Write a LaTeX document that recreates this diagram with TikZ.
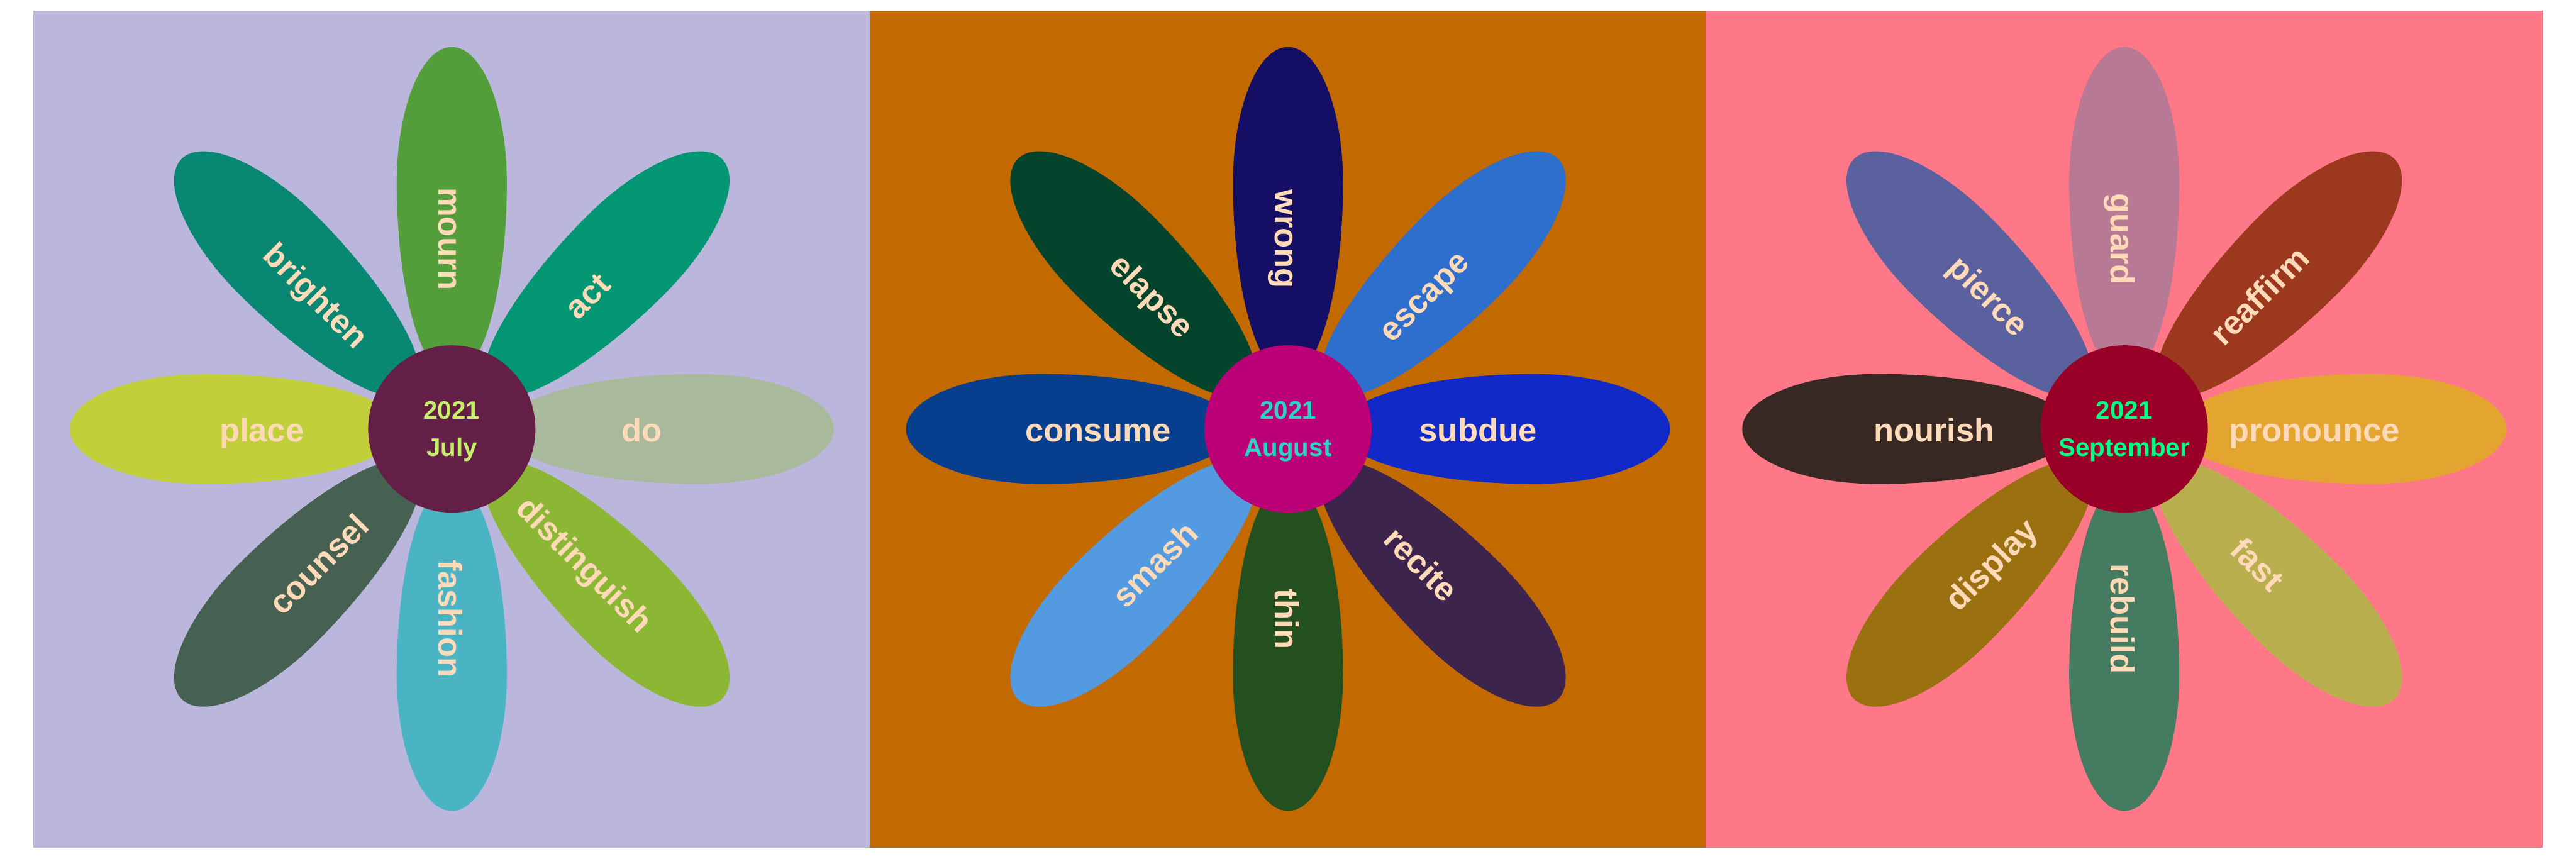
\documentclass[tikz,border=0pt]{standalone}
\usepackage{fontspec}
\setmainfont{Liberation Sans}
\usetikzlibrary{positioning}

% panel backgrounds
\definecolor{bgJul}{HTML}{BBB7DC}
\definecolor{bgAug}{HTML}{C26A00}
\definecolor{bgSep}{HTML}{FF7887}
% centres and their texts
\definecolor{coreJul}{HTML}{631F45}
\definecolor{coreAug}{HTML}{BB0077}
\definecolor{coreSep}{HTML}{990027}
\definecolor{dateJul}{HTML}{C6EF6A}
\definecolor{dateAug}{HTML}{2DD4C4}
\definecolor{dateSep}{HTML}{00FF85}
\definecolor{peach}{HTML}{FFDAB9}
% July petals
\definecolor{julA}{HTML}{A9B99B}
\definecolor{julB}{HTML}{039673}
\definecolor{julC}{HTML}{539D3A}
\definecolor{julD}{HTML}{088873}
\definecolor{julE}{HTML}{C0CF3A}
\definecolor{julF}{HTML}{466052}
\definecolor{julG}{HTML}{4AB4C4}
\definecolor{julH}{HTML}{8BB734}
% August petals
\definecolor{augA}{HTML}{1129C6}
\definecolor{augB}{HTML}{2E6ECC}
\definecolor{augC}{HTML}{140F64}
\definecolor{augD}{HTML}{04432C}
\definecolor{augE}{HTML}{073F8E}
\definecolor{augF}{HTML}{539AE0}
\definecolor{augG}{HTML}{245020}
\definecolor{augH}{HTML}{3D244D}
% September petals
\definecolor{sepA}{HTML}{E4A430}
\definecolor{sepB}{HTML}{9B381E}
\definecolor{sepC}{HTML}{B87995}
\definecolor{sepD}{HTML}{5A619E}
\definecolor{sepE}{HTML}{382824}
\definecolor{sepF}{HTML}{9A7010}
\definecolor{sepG}{HTML}{457C61}
\definecolor{sepH}{HTML}{BAAF4F}

\begin{document}
\begin{tikzpicture}[
    word/.style={text=peach, font=\bfseries\fontsize{19.4}{23}\selectfont, inner sep=0pt, text height=0.54cm, text depth=0pt},
    core/.style={circle, minimum size=3.45cm, inner sep=0pt, align=center, text depth=0pt, font=\bfseries\fontsize{14.9}{21.9}\selectfont}
]
\useasboundingbox (0,0) rectangle (53.14,17.71);

% Panel backgrounds
\fill[bgJul] (0.69,0.22) rectangle (17.94,17.49);
\fill[bgAug] (17.94,0.22) rectangle (35.19,17.49);
\fill[bgSep] (35.19,0.22) rectangle (52.45,17.49);

% July flower
\begin{scope}[shift={(9.32,8.86)}]
\foreach \ang/\word/\col in {0/do/julA, 45/act/julB, 90/mourn/julC, 135/brighten/julD, 180/place/julE, 225/counsel/julF, 270/fashion/julG, 315/distinguish/julH} {
    \pgfmathsetmacro{\rot}{mod(\ang+90,180)-90}
    \fill[\col, rotate=\ang] (5.08,1.135) arc[start angle=90, end angle=-90, x radius=2.80, y radius=1.135]
        arc[start angle=270, end angle=90, x radius=4.01, y radius=1.135] -- cycle;
    \node[word, rotate=\rot] (jul-\ang) at (\ang:3.92) {\word};
}
\node[core, fill=coreJul, text=dateJul] (jul) at (0,0) {2021\\July};
\end{scope}

% August flower
\begin{scope}[shift={(26.57,8.86)}]
\foreach \ang/\word/\col in {0/subdue/augA, 45/escape/augB, 90/wrong/augC, 135/elapse/augD, 180/consume/augE, 225/smash/augF, 270/thin/augG, 315/recite/augH} {
    \pgfmathsetmacro{\rot}{mod(\ang+90,180)-90}
    \fill[\col, rotate=\ang] (5.08,1.135) arc[start angle=90, end angle=-90, x radius=2.80, y radius=1.135]
        arc[start angle=270, end angle=90, x radius=4.01, y radius=1.135] -- cycle;
    \node[word, rotate=\rot] (aug-\ang) at (\ang:3.92) {\word};
}
\node[core, fill=coreAug, text=dateAug] (aug) at (0,0) {2021\\August};
\end{scope}

% September flower
\begin{scope}[shift={(43.82,8.86)}]
\foreach \ang/\word/\col in {0/pronounce/sepA, 45/reaffirm/sepB, 90/guard/sepC, 135/pierce/sepD, 180/nourish/sepE, 225/display/sepF, 270/rebuild/sepG, 315/fast/sepH} {
    \pgfmathsetmacro{\rot}{mod(\ang+90,180)-90}
    \fill[\col, rotate=\ang] (5.08,1.135) arc[start angle=90, end angle=-90, x radius=2.80, y radius=1.135]
        arc[start angle=270, end angle=90, x radius=4.01, y radius=1.135] -- cycle;
    \node[word, rotate=\rot] (sep-\ang) at (\ang:3.92) {\word};
}
\node[core, fill=coreSep, text=dateSep] (sep) at (0,0) {2021\\September};
\end{scope}

\end{tikzpicture}
\end{document}
